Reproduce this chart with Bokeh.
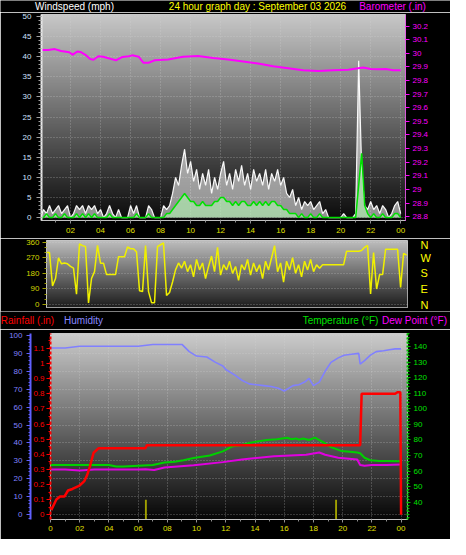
import numpy as np
from bokeh.plotting import figure
from bokeh.layouts import column
from bokeh.models import (Range1d, LinearAxis, SingleIntervalTicker, FixedTicker, Grid)
from bokeh.core.properties import value
from bokeh.embed import file_html
from bokeh.resources import INLINE

FONT = "Liberation Sans"

# ---------------- data ----------------
hour_ticks = [2, 4, 6, 8, 10, 12, 14, 16, 18, 20, 22, 24]
hour_labels = ["02", "04", "06", "08", "10", "12", "14", "16", "18", "20", "22", "00"]

top_titles = ["Windspeed (mph)", "24 hour graph day : September 03 2026", "Barometer (.in)"]
top_title_colors = ["#ffffff", "#ffff00", "#ff00ff"]
bottom_titles = ["Rainfall (.in)", "Humidity", "Temperature (°F)", "Dew Point (°F)"]
bottom_title_colors = ["#ff0000", "#8888ff", "#00e000", "#ff00ff"]

# wind sampled every 0.2 h
wind_hours = [round(i * 0.2, 1) for i in range(121)]
gust_mph = [0, 2, 1, 3, 1, 2, 3, 1, 2, 3,
            0, 1, 3, 2, 3, 1, 3, 2, 3, 1,
            2, 0, 1, 3, 1, 0, 2, 0, 0, 0,
            3, 1, 3, 0, 0, 0, 3, 2, 0, 0,
            0, 3, 2, 3, 6, 10, 8, 13, 17, 11,
            14, 9, 12, 7, 11, 8, 12, 6, 10, 7,
            11, 14, 8, 11, 7, 12, 9, 13, 8, 11,
            7, 12, 9, 11, 8, 12, 7, 11, 9, 12,
            8, 10, 6, 5, 7, 3, 5, 2, 4, 3,
            4, 2, 3, 4, 1, 2, 0, 0, 0, 0,
            0, 1, 0, 0, 0, 1, 39, 12, 3, 2,
            4, 2, 3, 1, 3, 2, 0, 1, 3, 4,
            1]
wind_mph = [0, 0, 1, 0, 0, 1, 0, 0, 1, 0,
            0, 0, 1, 0, 1, 0, 1, 0, 1, 0,
            0, 0, 0, 1, 0, 0, 0, 0, 0, 0,
            0, 0, 1, 0, 0, 0, 1, 0, 0, 0,
            0, 0, 1, 1, 2, 3, 4, 5, 6, 5,
            4, 4, 3, 3, 4, 3, 3, 3, 4, 4,
            5, 5, 4, 4, 3, 4, 3, 4, 4, 3,
            3, 4, 3, 4, 3, 4, 3, 4, 4, 3,
            3, 2, 2, 1, 1, 1, 0, 1, 0, 0,
            1, 0, 0, 1, 0, 0, 0, 0, 0, 0,
            0, 0, 0, 0, 0, 0, 8, 16, 3, 1,
            0, 1, 0, 0, 1, 0, 0, 0, 1, 1,
            0]

baro_hours = [0.08, 0.52, 0.95, 1.37, 1.92, 2.13, 2.45, 2.66, 2.99, 3.31,
              3.53, 3.85, 4.17, 4.71, 5.03, 5.46, 5.89, 6.11, 6.54, 6.86,
              7.18, 7.61, 8.5, 9.5, 10.5, 11.5, 12.5, 13.5, 14.5, 15.5,
              16.5, 17.5, 18.5, 19.5, 20.5, 21.5, 22.0, 22.5, 23.0, 23.5, 24.0]
baro_inhg = [30.024, 30.024, 30.031, 30.017, 30.008, 29.989, 30.013, 30.010, 29.989, 29.958,
             29.953, 29.978, 29.975, 29.958, 29.949, 29.973, 29.978, 29.985, 29.975, 29.930,
             29.930, 29.949, 29.955, 29.975, 29.980, 29.965, 29.955, 29.940, 29.925, 29.905,
             29.890, 29.875, 29.870, 29.875, 29.880, 29.895, 29.885, 29.882, 29.885, 29.876, 29.875]
baro_ticks = [28.8, 28.9, 29.0, 29.1, 29.2, 29.3, 29.4, 29.5, 29.6, 29.7, 29.8, 29.9, 30.0, 30.1, 30.2]
baro_labels = ["28.8", "28.9", "29", "29.1", "29.2", "29.3", "29.4", "29.5", "29.6", "29.7",
               "29.8", "29.9", "30", "30.1", "30.2"]

dir_hours = [round(i * 0.2, 1) for i in range(121)]
dir_deg = [300, 300, 108, 150, 270, 235, 240, 235, 220, 210,
           60, 350, 340, 335, 10, 150, 190, 341, 239, 239,
           173, 173, 173, 173, 276, 276, 276, 332, 322, 322,
           304, 80, 75, 341, 75, 11, 11, 335, 345, 355,
           52, 70, 130, 200, 240, 210, 250, 190, 230, 160,
           260, 200, 240, 150, 220, 280, 190, 330, 170, 230,
           200, 250, 180, 220, 140, 230, 200, 260, 170, 240,
           190, 230, 150, 250, 200, 270, 340, 190, 240, 130,
           250, 200, 270, 180, 230, 160, 250, 200, 260, 190,
           230, 210, 229, 229, 229, 229, 229, 229, 229, 229,
           308, 308, 308, 308, 308, 312, 330, 341, 61, 300,
           90, 173, 173, 319, 319, 319, 319, 319, 99, 295,
           285]
dir_ticks = [0, 90, 180, 270, 360]
dir_minor = [30, 60, 120, 150, 210, 240, 300, 330]
compass_labels = ["N", "E", "S", "W", "N"]

hum_hours = [0, 1, 2, 3, 4, 5, 6, 7, 8, 9, 9.5, 10, 10.7, 11.3, 11.8, 12, 12.6, 13.1, 13.6, 14.1,
             14.6, 15.1, 15.6, 16.0, 16.6, 17.0, 17.4, 17.7, 18.0, 18.4, 18.8, 19.2, 19.7, 20.1,
             20.6, 21.1, 21.2, 21.5, 21.9, 22.3, 22.8, 23.2, 23.6, 24.0]
hum_pct = [93, 93, 94, 94, 94, 94, 94, 95, 95, 95, 91, 88.5, 88, 85, 83, 81, 78, 75, 73, 72.5,
           72, 71.5, 70.5, 69, 72, 72.5, 74, 76, 72, 74, 80, 85, 87.5, 89,
           89.5, 90, 84, 86, 89, 91, 91.5, 92, 92.5, 92.5]

temp_hours = [0, 1, 2, 3, 4, 4.5, 5, 6, 7, 7.8, 8.5, 9.1, 9.8, 10.9, 11.8, 12.4, 13.1, 13.7, 14.8,
              15.5, 16.2, 16.5, 16.8, 17.0, 17.3, 17.7, 18.1, 18.6, 19.2, 19.9, 20.5, 21.0, 21.2,
              21.5, 21.9, 22.5, 23.0, 24.0]
temp_f = [64, 64, 64, 64, 64, 63, 63, 63.5, 64, 65.5, 66, 67, 68.5, 70, 72.7, 75.8, 76.8, 78.3, 80,
          80.5, 81.4, 80.5, 81, 80.2, 81, 80, 81.5, 79, 75.4, 73, 72.5, 72, 71.5,
          68.6, 67, 66.5, 66.5, 66.3]

dew_hours = [0, 1, 2, 3, 4, 5, 6, 6.5, 7.1, 7.8, 9.8, 11.8, 13.1, 15.3, 17.5, 18.4, 18.8, 19.7,
             21.0, 21.2, 21.5, 22, 23, 24]
dew_f = [61, 61, 60.5, 61, 61, 61, 61, 61.3, 60.7, 62.4, 63.8, 65.8, 67.5, 69.6, 70.6, 72, 70.5, 68.6,
         67.5, 64, 63.5, 64, 64, 64.2]

rain_hours = [0.05, 0.4, 0.65, 0.95, 1.2, 1.5, 1.95, 2.3, 2.5, 2.7, 2.95, 3.3, 6.5, 6.6,
              21.2, 21.3, 23.6, 23.75, 23.95, 24.0]
rain_in = [0.03, 0.10, 0.12, 0.12, 0.16, 0.17, 0.19, 0.22, 0.26, 0.32, 0.41, 0.44, 0.44, 0.46,
           0.46, 0.80, 0.80, 0.81, 0.81, 0.0]

rate_hours = [6.53, 19.55]
rate_in = [0.098, 0.098]

temp_ticks = [40, 50, 60, 70, 80, 90, 100, 110, 120, 130, 140]
temp_minor = [30, 32, 34, 36, 38, 42, 44, 46, 48, 52, 54, 56, 58, 62, 64, 66, 68, 72, 74, 76, 78,
              82, 84, 86, 88, 92, 94, 96, 98, 102, 104, 106, 108, 112, 114, 116, 118, 122, 124,
              126, 128, 132, 134, 136, 138, 142, 144, 146, 148]


# ---------------- helpers ----------------
W = 450


def base_fig(w, h, xr, yr, left, right, top, bottom):
    p = figure(width=w, height=h, x_range=xr, y_range=yr, output_backend="svg",
               toolbar_location=None, title=None, frame_align=False,
               min_border_left=left, min_border_right=right,
               min_border_top=top, min_border_bottom=bottom)
    p.background_fill_color = "black"
    p.border_fill_color = "black"
    p.outline_line_color = "#c8c8c8"
    p.outline_line_width = 1
    p.grid.grid_line_color = "#d8d8d8"
    p.grid.grid_line_alpha = 0.45
    p.grid.grid_line_dash = "1 2"
    return p


def title_strip(h, xs, y, texts, colors):
    p = figure(width=W, height=h, x_range=Range1d(0, W), y_range=Range1d(0, h),
               output_backend="svg", toolbar_location=None, title=None, frame_align=False,
               x_axis_location=None, y_axis_location=None,
               min_border_left=0, min_border_right=0, min_border_top=0, min_border_bottom=0)
    p.background_fill_color = "black"
    p.border_fill_color = "black"
    p.outline_line_color = None
    p.grid.visible = False
    p.text(x=xs, y=[y] * len(xs), text=texts, text_color=colors,
           text_font=value(FONT), text_font_size=value("10px"),
           text_align="center", text_baseline="middle")
    return p


def add_gradient(p, xr, yr, top, bottom, n=256):
    t = np.linspace(0.0, 1.0, n)[:, None]
    img = np.zeros((n, 1), dtype=np.uint32)
    v = img.view(dtype=np.uint8).reshape((n, 1, 4))
    for k in range(3):
        v[:, :, k] = (bottom[k] + (top[k] - bottom[k]) * t).astype(np.uint8)
    v[:, :, 3] = 255
    p.image_rgba(image=[img], x=xr.start, y=yr.start, dw=xr.end - xr.start,
                 dh=yr.end - yr.start, level="image")


def style_axis(ax, color, line_color, tick_color, out, minor_out, standoff, size="8px"):
    ax.major_label_text_color = color
    ax.major_label_text_font = FONT
    ax.major_label_text_font_size = size
    ax.axis_line_color = line_color
    ax.major_tick_line_color = tick_color
    ax.minor_tick_line_color = tick_color
    ax.major_tick_out = out
    ax.major_tick_in = 0
    ax.minor_tick_out = minor_out
    ax.minor_tick_in = 0
    ax.major_label_standoff = standoff


# ---------------- title strip above the wind plot ----------------
t1 = title_strip(12, [74, 257, 392], 6, top_titles, top_title_colors)

# ---------------- top: wind + barometer ----------------
x1 = Range1d(0.065, 24.32)
y1 = Range1d(-0.72, 50.48)
p1 = base_fig(W, 226, x1, y1, 41, 45, 2, 18)
p1.extra_y_ranges = {"baro": Range1d(28.772, 30.285)}
add_gradient(p1, x1, y1, (200, 200, 200), (10, 10, 10))

xa = p1.xaxis[0]
xa.ticker = SingleIntervalTicker(interval=2, num_minor_ticks=2)
xa.major_label_overrides = dict(zip(hour_ticks, hour_labels))
style_axis(xa, "#e0e000", "#c0c0c0", "#909090", 3, 2, 4)

ya = p1.yaxis[0]
ya.ticker = SingleIntervalTicker(interval=5, num_minor_ticks=5)
style_axis(ya, "#d0e0ff", "#e8e8e8", "#a0a0a0", 5, 3, 5)
ya.axis_line_width = 2

baro_axis = LinearAxis(y_range_name="baro", ticker=FixedTicker(ticks=baro_ticks),
                       major_label_overrides=dict(zip(baro_ticks, baro_labels)))
style_axis(baro_axis, "#ff00ff", "#ff00ff", "#ff00ff", 4, 0, 3)
baro_axis.axis_line_dash = "1 1"
p1.add_layout(baro_axis, "right")

p1.varea(x=wind_hours, y1=0, y2=gust_mph, fill_color="white", fill_alpha=0.55)
p1.line(wind_hours, gust_mph, line_color="white", line_width=1.2, line_alpha=0.95)
p1.varea(x=wind_hours, y1=0, y2=wind_mph, fill_color="#b0f0b0", fill_alpha=0.65)
p1.line(wind_hours, wind_mph, line_color="#00e000", line_width=1.5)
p1.line(baro_hours, baro_inhg, y_range_name="baro", line_color="#ff00ff", line_width=2)

# ---------------- middle: wind direction ----------------
x2 = Range1d(0, 24.06)
y2 = Range1d(-16.8, 369.5)
p2 = base_fig(W, 73, x2, y2, 46, 43, 2, 4)
add_gradient(p2, x2, y2, (190, 190, 190), (28, 28, 28))
p2.xaxis.visible = False
p2.xgrid.visible = False
da = p2.yaxis[0]
da.ticker = FixedTicker(ticks=dir_ticks, minor_ticks=dir_minor)
style_axis(da, "#d4d400", "#c0c0c0", "#a0a000", 4, 2, 3)
comp = LinearAxis(ticker=FixedTicker(ticks=dir_ticks),
                  major_label_overrides=dict(zip(dir_ticks, compass_labels)))
style_axis(comp, "#ffff00", None, None, 0, 0, 13, size="11px")
p2.add_layout(comp, "right")
p2.line(dir_hours, dir_deg, line_color="#f0f000", line_width=1.5)

# ---------------- title strip above the lower plot ----------------
t2 = title_strip(18, [27, 83, 340, 414], 9, bottom_titles, bottom_title_colors)

# ---------------- bottom: rain / humidity / temperature ----------------
x3 = Range1d(0, 24.44)
y3 = Range1d(-0.032, 1.199)
p3 = base_fig(W, 210, x3, y3, 50, 43, 4, 20)
p3.extra_y_ranges = {"hum": Range1d(-2.7, 101.1), "temp": Range1d(29.0, 148.3)}
add_gradient(p3, x3, y3, (204, 204, 204), (6, 6, 6))

hum_ticker = SingleIntervalTicker(interval=10, num_minor_ticks=5)
p3.ygrid.visible = False
p3.add_layout(Grid(dimension=1, ticker=hum_ticker, y_range_name="hum",
                   grid_line_color="#d8d8d8", grid_line_alpha=0.45, grid_line_dash="1 2"))

bx = p3.xaxis[0]
bx.ticker = SingleIntervalTicker(interval=2, num_minor_ticks=2)
bx.major_label_overrides = dict(zip(hour_ticks, hour_labels))
style_axis(bx, "#e0e000", "#c0c0c0", "#909090", 3, 2, 3)

ra = p3.yaxis[0]
ra.ticker = SingleIntervalTicker(interval=0.1, num_minor_ticks=2)
ra.major_label_overrides = {0: "0", 1: "1"}
style_axis(ra, "#ff0000", "#ff0000", "#ff0000", 4, 2, 2)
ra.axis_line_width = 2
ra.axis_line_dash = "3 2"

ha = LinearAxis(y_range_name="hum", ticker=hum_ticker)
style_axis(ha, "#8080ff", "#6060ff", "#6060ff", 4, 2, 4)
ha.axis_line_width = 2
p3.add_layout(ha, "left")

ta = LinearAxis(y_range_name="temp", ticker=FixedTicker(ticks=temp_ticks, minor_ticks=temp_minor))
style_axis(ta, "#00e000", "#00c000", "#00c000", 3, 2, 3)
ta.axis_line_width = 2
ta.axis_line_dash = "2 2"
p3.add_layout(ta, "right")

p3.vbar(x=rate_hours, top=rate_in, bottom=y3.start, width=0.13, fill_color="#a0a000",
        line_color=None)
p3.line(hum_hours, hum_pct, y_range_name="hum", line_color="#8080ff", line_width=1.6)
p3.line(temp_hours, temp_f, y_range_name="temp", line_color="#00d000", line_width=2)
p3.line(dew_hours, dew_f, y_range_name="temp", line_color="#e000e0", line_width=2)
p3.line(rain_hours, rain_in, line_color="#ff0000", line_width=2.5)

p = column(t1, p1, p2, t2, p3)
open("out.html", "w").write(file_html(p, INLINE))
